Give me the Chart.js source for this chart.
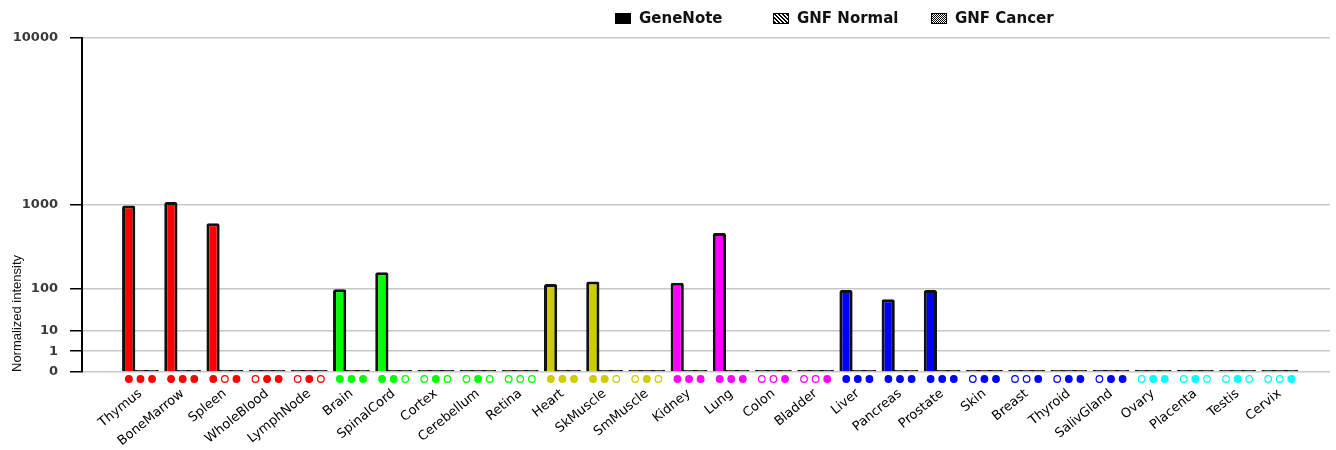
<!DOCTYPE html>
<html>
<head>
<meta charset="utf-8">
<script src="https://cdn.jsdelivr.net/npm/chart.js@4.4.1/dist/chart.umd.min.js"></script>
<style>
  html, body { margin: 0; padding: 0; background: #fff; }
</style>
</head>
<body>
<canvas id="myChart" width="1336" height="450"></canvas>
<script>
const tissues = ['Thymus', 'BoneMarrow', 'Spleen', 'WholeBlood', 'LymphNode', 'Brain', 'SpinalCord',
    'Cortex', 'Cerebellum', 'Retina', 'Heart', 'SkMuscle', 'SmMuscle', 'Kidney', 'Lung', 'Colon',
    'Bladder', 'Liver', 'Pancreas', 'Prostate', 'Skin', 'Breast', 'Thyroid', 'SalivGland', 'Ovary',
    'Placenta', 'Testis', 'Cervix'];
const geneNote = [990, 1060, 680, 0, 0, 97, 180, 0, 0, 0, 119, 131, 0, 125, 545, 0, 0, 94, 63, 94,
    0, 0, 0, 0, 0, 0, 0, 0];
const gnfNormal = [0, 0, 0, 0, 0, 0, 0, 0, 0, 0, 0, 0, 0, 0, 0, 0, 0, 0, 0, 0, 0, 0, 0, 0, 0, 0, 0, 0];
const gnfCancer = [0, 0, 0, 0, 0, 0, 0, 0, 0, 0, 0, 0, 0, 0, 0, 0, 0, 0, 0, 0, 0, 0, 0, 0, 0, 0, 0, 0];
// one char per replicate, 1 = present (filled dot), 0 = absent (open dot)
const calls = ['111', '111', '101', '011', '010', '111', '110', '010', '010', '000', '111', '110', '010',
    '111', '111', '001', '001', '111', '111', '111', '011', '001', '011', '011', '011', '010', '010', '001'];
const tissueColors = ['#ff0000', '#ff0000', '#ff0000', '#ff0000', '#ff0000',
    '#00ff00', '#00ff00', '#00ff00', '#00ff00', '#00ff00',
    '#cccc00', '#cccc00', '#cccc00',
    '#ff00ff', '#ff00ff', '#ff00ff', '#ff00ff',
    '#0000ff', '#0000ff', '#0000ff', '#0000ff', '#0000ff', '#0000ff', '#0000ff',
    '#00ffff', '#00ffff', '#00ffff', '#00ffff'];
const yTicks = [0, 1, 10, 100, 1000, 10000];

// the y axis doubles per decade: y = v^log10(2)
const tr = v => Math.pow(v, Math.log10(2));

var ctx = document.getElementById('myChart').getContext('2d');

function makePattern(cells) {
    var c = document.createElement('canvas');
    c.width = 4; c.height = 4;
    var g = c.getContext('2d');
    g.fillStyle = '#fff';
    g.fillRect(0, 0, 4, 4);
    g.fillStyle = '#000';
    cells.forEach(p => g.fillRect(p[0], p[1], 1, 1));
    return ctx.createPattern(c, 'repeat');
}
const normalFill = makePattern([[0, 0], [1, 1], [2, 2], [3, 3], [1, 0], [2, 1], [3, 2], [0, 3]]);
const cancerFill = makePattern([[0, 0], [2, 0], [1, 1], [3, 1], [0, 2], [1, 3], [2, 2], [3, 3]]);

const toPoints = arr => arr.map((v, i) => ({x: i, y: tr(v)}));

// detection calls drawn as a row of dots under each tissue group
const callDots = {
    id: 'callDots',
    afterDatasetsDraw(chart) {
        var c = chart.ctx, xs = chart.scales.x, y = chart.scales.y.bottom + 7;
        c.save();
        c.lineWidth = 1.2;
        calls.forEach((call, i) => {
            call.split('').forEach((s, j) => {
                var x = xs.getPixelForValue(i + (j - 1) * 0.275);
                c.beginPath();
                c.arc(x, y, 3.3, 0, Math.PI * 2);
                c.fillStyle = s === '1' ? tissueColors[i] : '#fff';
                c.fill();
                c.strokeStyle = tissueColors[i];
                c.stroke();
            });
        });
        c.restore();
    }
};

const legendX = [615, 773, 931];
const topLegend = {
    id: 'topLegend',
    afterDraw(chart) {
        var c = chart.ctx;
        c.save();
        c.font = 'bold 15px "DejaVu Sans"';
        c.textBaseline = 'middle';
        chart.data.datasets.forEach((ds, k) => {
            var x = legendX[k];
            c.fillStyle = ds.legendFill;
            c.fillRect(x, 13, 16, 11);
            c.strokeStyle = '#000';
            c.lineWidth = 1;
            c.strokeRect(x + 0.5, 13.5, 15, 10);
            c.fillStyle = '#111';
            c.fillText(ds.label, x + 24, 19);
        });
        c.restore();
    }
};

const barStyle = {
    borderWidth: 3,
    borderColor: '#111',
    borderRadius: 2,
    minBarLength: 2,
    categoryPercentage: 0.84,
    barPercentage: 1.12
};

const data = {
    datasets: [
        Object.assign({
            label: 'GeneNote',
            data: toPoints(geneNote),
            legendFill: '#000',
            backgroundColor: c => geneNote[c.dataIndex] > 0 ? tissueColors[c.dataIndex] : '#222'
        }, barStyle),
        Object.assign({
            label: 'GNF Normal',
            data: toPoints(gnfNormal),
            legendFill: normalFill,
            backgroundColor: '#333'
        }, barStyle),
        Object.assign({
            label: 'GNF Cancer',
            data: toPoints(gnfCancer),
            legendFill: cancerFill,
            backgroundColor: '#333'
        }, barStyle)
    ]
};

const config = {
    type: 'bar',
    data: data,
    options: {
        responsive: false,
        animation: false,
        layout: {
            autoPadding: false,
            padding: {top: 38, right: 6, left: 0, bottom: 0}
        },
        plugins: {
            legend: {display: false},
            tooltip: {enabled: false}
        },
        scales: {
            x: {
                type: 'linear',
                offset: false,
                min: -1.386,
                max: 28.19,
                grid: {display: false, drawTicks: false, offset: false},
                border: {display: false},
                ticks: {
                    stepSize: 1,
                    includeBounds: false,
                    autoSkip: false,
                    maxRotation: 39,
                    minRotation: 39,
                    padding: 14,
                    color: '#000',
                    font: {family: '"DejaVu Sans"', size: 13},
                    callback: v => tissues[v] || ''
                },
                afterFit: s => {
                    s.height = 78;
                    s.paddingLeft = 0;
                    s.paddingRight = 0;
                }
            },
            y: {
                min: 0,
                max: tr(10000),
                afterBuildTicks: s => { s.ticks = yTicks.map(v => ({value: tr(v)})); },
                ticks: {
                    callback: (v, i) => yTicks[i],
                    padding: 12,
                    color: '#3a3a3a',
                    font: {family: '"DejaVu Sans"', size: 13, weight: 'bold'}
                },
                grid: {color: '#c8c8c8', tickColor: '#000', tickLength: 12, lineWidth: 1.5},
                border: {color: '#000', width: 2},
                title: {
                    display: true,
                    text: 'Normalized intensity',
                    align: 'start',
                    color: '#111',
                    font: {family: '"Liberation Sans"', size: 13},
                    padding: {top: 10, bottom: 0}
                },
                afterFit: s => { s.width = 82; }
            }
        }
    },
    plugins: [callDots, topLegend]
};

var myNewChart = new Chart(ctx, config);
</script>
</body>
</html>
